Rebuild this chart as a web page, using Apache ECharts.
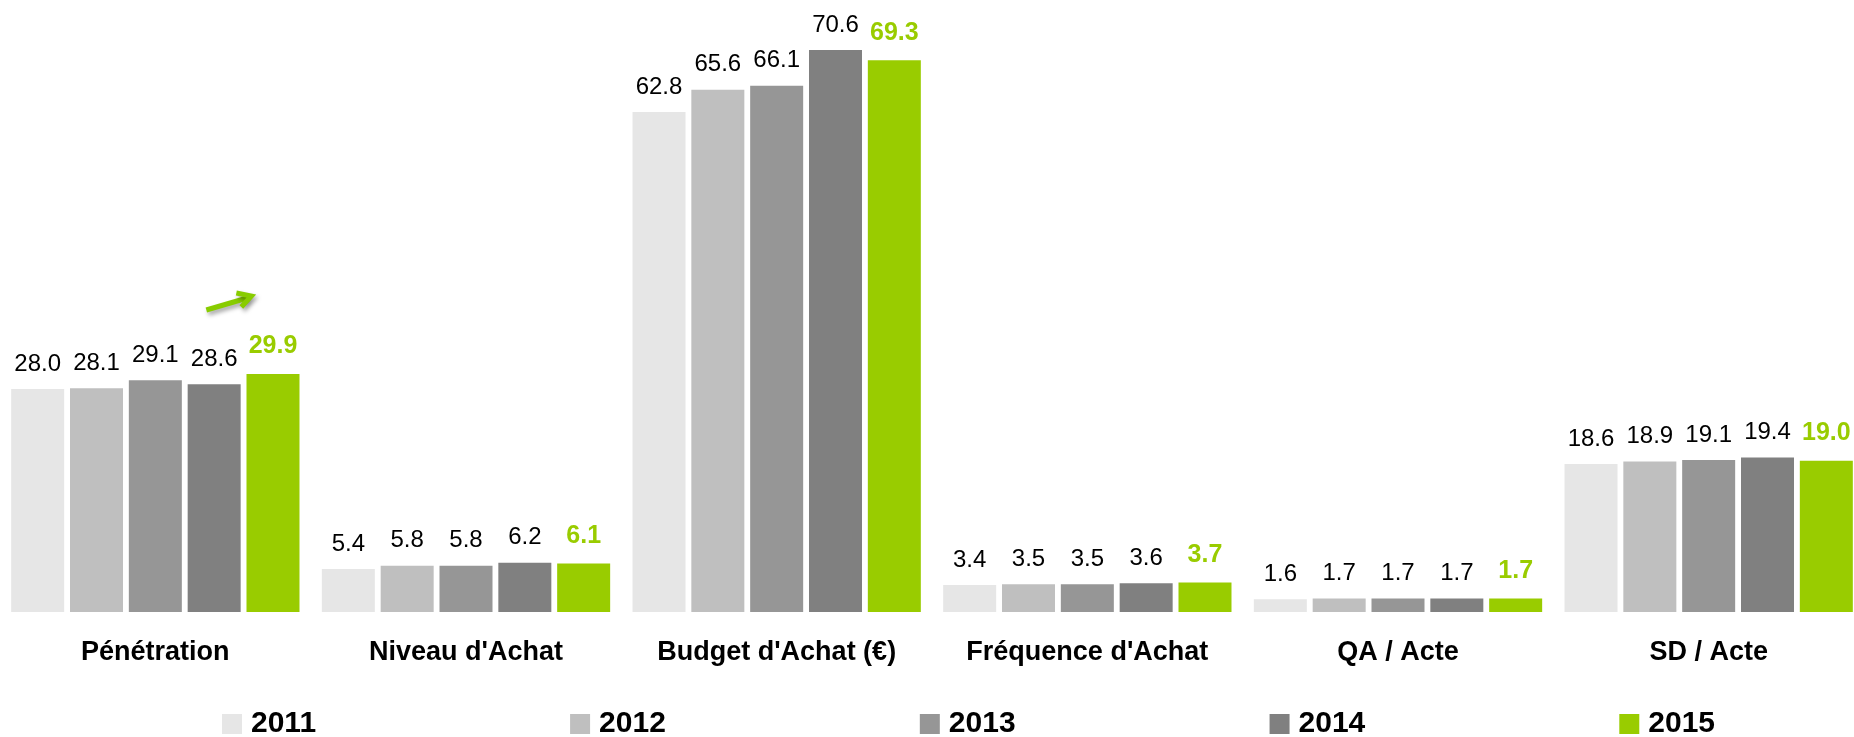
<!DOCTYPE html>
<html>
<head>
<meta charset="utf-8">
<script src="https://cdn.jsdelivr.net/npm/echarts@6/dist/echarts.min.js"></script>
<style>
    html, body { margin: 0; padding: 0; background: #ffffff; }
    #chart { width: 1854px; height: 737px; }
</style>
</head>
<body>
<div id="chart"></div>
<script>
    // données
    const categories = [ 'Pénétration', "Niveau d'Achat", "Budget d'Achat (€)", "Fréquence d'Achat", 'QA / Acte', 'SD / Acte' ];
    const years = [ '2011', '2012', '2013', '2014', '2015' ];
    const v2011 = [ 28.0, 5.4, 62.8, 3.4, 1.6, 18.6 ];
    const v2012 = [ 28.1, 5.8, 65.6, 3.5, 1.7, 18.9 ];
    const v2013 = [ 29.1, 5.8, 66.1, 3.5, 1.7, 19.1 ];
    const v2014 = [ 28.6, 6.2, 70.6, 3.6, 1.7, 19.4 ];
    const v2015 = [ 29.9, 6.1, 69.3, 3.7, 1.7, 19.0 ];
    const values = [ v2011, v2012, v2013, v2014, v2015 ];
    const colors = [ '#e6e6e6', '#bfbfbf', '#969696', '#808080', '#99cc00' ];

    const font = 'Arial, "Liberation Sans", sans-serif';
    const chart = echarts.init( document.getElementById( 'chart' ) );

    const series = years.map( function( y, i ) {
        const last = i === years.length - 1;
        return {
            name: y,
            type: 'bar',
            barWidth: 53,
            barGap: '11%',
            itemStyle: { color: colors[ i ] },
            label: {
                show: true,
                position: 'top',
                distance: last ? 15 : 13,
                fontFamily: font,
                fontSize: last ? 25 : 24,
                fontWeight: last ? 'bold' : 'normal',
                color: last ? '#99cc00' : '#000000',
                formatter: function( p ) { return p.value.toFixed( 1 ); }
            },
            emphasis: { disabled: true },
            data: values[ i ]
        };
    } );

    chart.setOption( {
        animation: false,
        backgroundColor: '#ffffff',
        grid: { left: 0, width: 1864, top: 7, height: 605, outerBoundsMode: 'none', containLabel: false },
        legend: {
            data: years,
            left: 217,
            top: 704,
            itemWidth: 20,
            itemHeight: 20,
            itemGap: 254,
            icon: 'rect',
            textStyle: {
                fontFamily: font,
                fontSize: 30,
                fontWeight: 'bold',
                color: '#000000',
                padding: [ 0, 0, 0, 4 ]
            }
        },
        xAxis: {
            type: 'category',
            data: categories,
            axisLine: { show: false },
            axisTick: { show: false },
            axisLabel: {
                interval: 0,
                margin: 27,
                fontFamily: font,
                fontSize: 27,
                fontWeight: 'bold',
                color: '#000000'
            }
        },
        yAxis: {
            type: 'value',
            min: 0,
            max: 76,
            show: false,
            splitLine: { show: false }
        },
        series: series
    } );

    // flèche verte au-dessus de Pénétration 2015
    const p = chart.convertToPixel( { gridIndex: 0 }, [ 0, v2015[ 0 ] ] );
    const x0 = p[ 0 ] + 51, y0 = p[ 1 ] - 64;
    const x1 = x0 + 45, y1 = y0 - 14;
    chart.setOption( {
        graphic: [ {
            type: 'group',
            children: [ {
                type: 'line',
                shape: { x1: x0, y1: y0, x2: x1 - 4, y2: y1 + 2 },
                style: {
                    stroke: '#88cc00', lineWidth: 5,
                    shadowBlur: 4, shadowColor: 'rgba(0,0,0,0.35)', shadowOffsetX: 2, shadowOffsetY: 3
                }
            }, {
                type: 'polyline',
                shape: { points: [ [ x1 - 15, y1 - 3 ], [ x1, y1 ], [ x1 - 10, y1 + 11 ] ] },
                style: {
                    stroke: '#88cc00', lineWidth: 5, fill: null,
                    shadowBlur: 4, shadowColor: 'rgba(0,0,0,0.35)', shadowOffsetX: 2, shadowOffsetY: 3
                }
            } ]
        } ]
    } );
</script>
</body>
</html>
